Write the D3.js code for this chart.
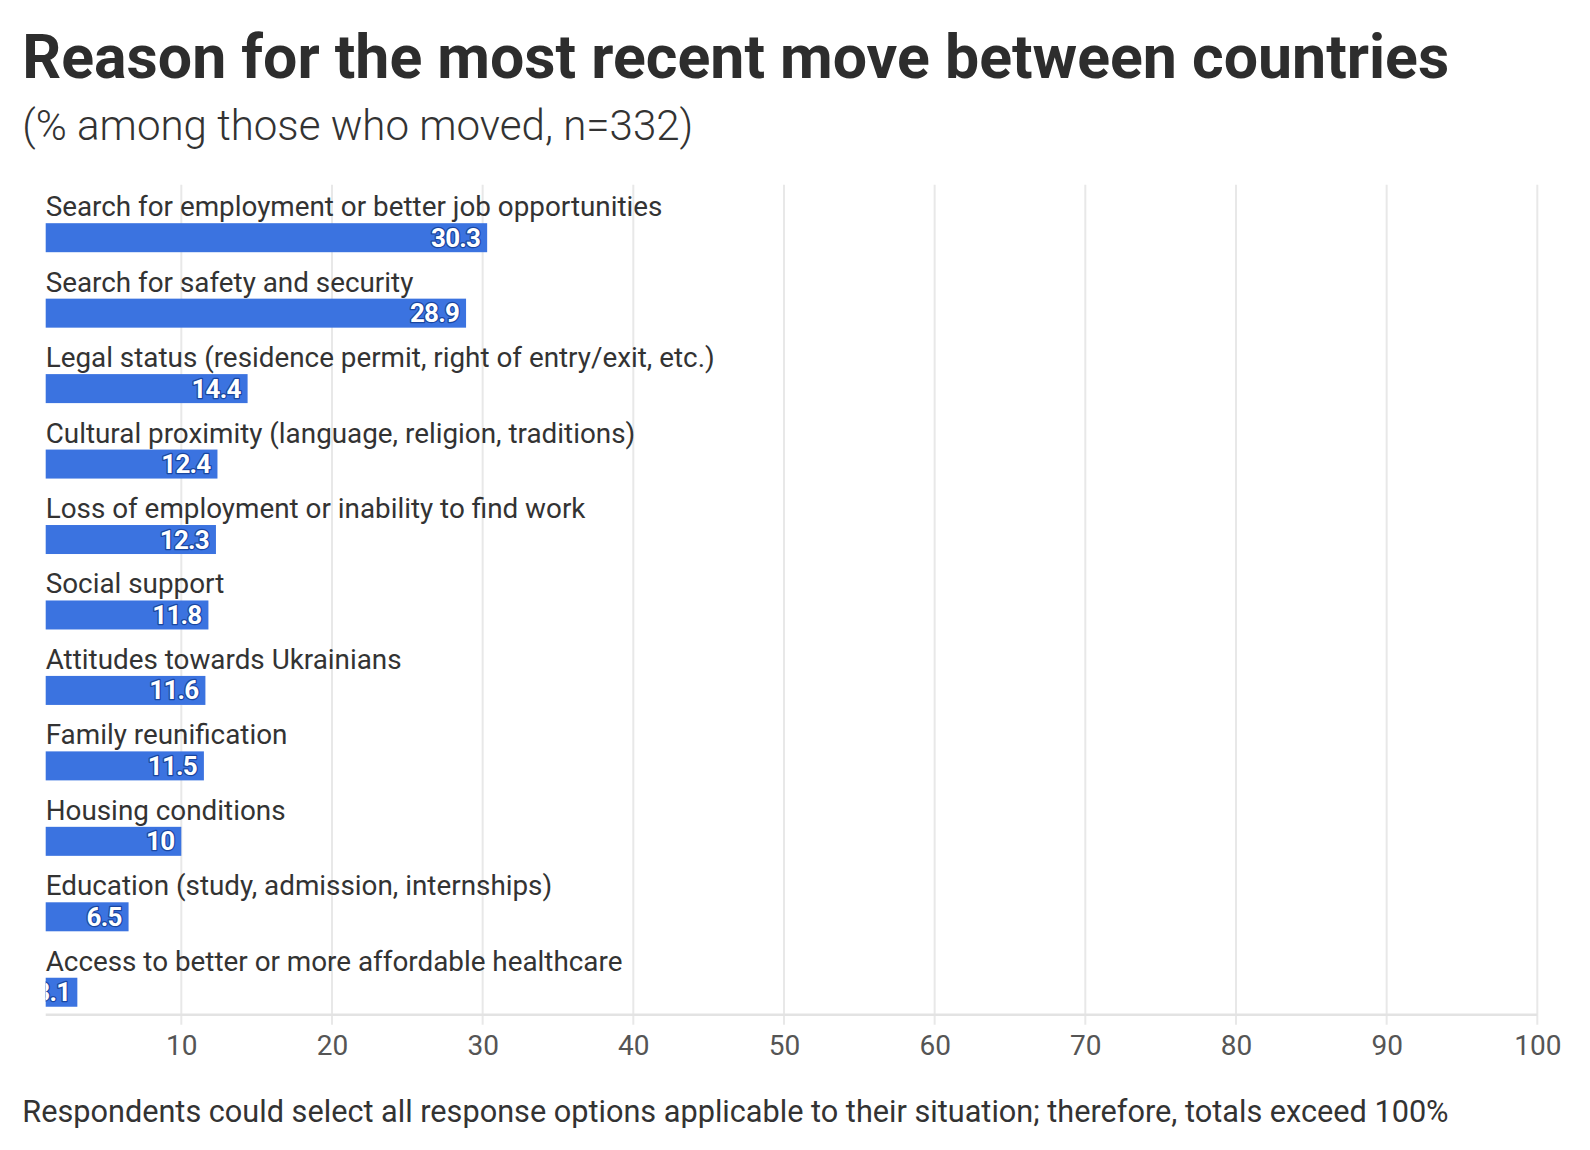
<!DOCTYPE html>
<html>
<head>
<meta charset="utf-8">
<script src="https://cdn.jsdelivr.net/npm/d3@7"></script>
<style>
  html, body { margin: 0; padding: 0; background: #fff; }
  svg { display: block; }
</style>
</head>
<body>
<svg id="chart" width="1590" height="1150"></svg>
<script>
const categories = [
  "Search for employment or better job opportunities",
  "Search for safety and security",
  "Legal status (residence permit, right of entry/exit, etc.)",
  "Cultural proximity (language, religion, traditions)",
  "Loss of employment or inability to find work",
  "Social support",
  "Attitudes towards Ukrainians",
  "Family reunification",
  "Housing conditions",
  "Education (study, admission, internships)",
  "Access to better or more affordable healthcare"
];
const values = [30.3, 28.9, 14.4, 12.4, 12.3, 11.8, 11.6, 11.5, 10, 6.5, 3.1];
const tickValues = [10, 20, 30, 40, 50, 60, 70, 80, 90, 100];
const titleText = "Reason for the most recent move between countries";
const subtitleText = "(% among those who moved, n=332)";
const noteText = "Respondents could select all response options applicable to their situation; therefore, totals exceed 100%";

(function () {
const FONT = "Roboto, 'Liberation Sans', sans-serif";
const svg = d3.select("#chart");

function fitWidth(sel, target) {
  const base = parseFloat(sel.attr("font-size"));
  const w = sel.node().getComputedTextLength();
  sel.attr("font-size", (base * target / w).toFixed(2));
}

const pL = 45.7, pR = 1537.3, pT = 184.7, pB = 1014.7;
const x = d3.scaleLinear().domain([1, 100]).range([pL, pR]);
const y = d3.scaleBand().domain(categories).range([pT, pB]);

// Title & subtitle
const title = svg.append("text").attr("x", 22.3).attr("y", 78)
  .attr("font-family", FONT).attr("font-weight", 700).attr("font-size", 56)
  .attr("fill", "#2d2d2d").text(titleText);
fitWidth(title, 1427);

const sub = svg.append("text").attr("x", 22.3).attr("y", 140)
  .attr("font-family", FONT).attr("font-weight", 300).attr("font-size", 40)
  .attr("fill", "#333").text(subtitleText);
fitWidth(sub, 671);

// Gridlines
svg.append("g").selectAll("line").data(tickValues).join("line")
  .attr("x1", d => x(d)).attr("x2", d => x(d))
  .attr("y1", pT).attr("y2", pB + 10)
  .attr("stroke", "#e8e8e8").attr("stroke-width", 2);

// Baseline
svg.append("line").attr("x1", pL).attr("x2", pR)
  .attr("y1", pB).attr("y2", pB)
  .attr("stroke", "#e3e3e3").attr("stroke-width", 2.5);

// Axis tick labels
const xAxis = d3.axisBottom(x).tickValues(tickValues).tickSize(0).tickPadding(0).tickFormat(d => String(d));
const axG = svg.append("g").attr("transform", `translate(0,${pB})`).call(xAxis);
axG.select(".domain").remove();
axG.selectAll("text").attr("font-family", FONT).attr("font-size", 28).attr("fill", "#555")
  .attr("dy", null).attr("y", 40.5);

// Category labels
const labels = svg.append("g").selectAll("text").data(categories).join("text")
  .attr("x", pL).attr("y", d => y(d) + 31.5)
  .attr("font-family", FONT).attr("font-size", 25).attr("fill", "#333")
  .text(d => d);
const lw = labels.node().getComputedTextLength();
labels.attr("font-size", (25 * 617 / lw).toFixed(2));

// Clip for bars
svg.append("clipPath").attr("id", "plotclip").append("rect")
  .attr("x", pL).attr("y", pT).attr("width", pR - pL).attr("height", pB - pT);

const bars = svg.append("g").attr("clip-path", "url(#plotclip)");
const rows = categories.map((c, i) => ({ c, v: values[i] }));
bars.selectAll("rect").data(rows).join("rect")
  .attr("x", x(0)).attr("y", d => y(d.c) + 38.5)
  .attr("width", d => x(d.v) - x(0)).attr("height", 29)
  .attr("fill", "#3b73e0");

bars.selectAll("text").data(rows).join("text")
  .attr("x", d => x(d.v) - 7).attr("y", d => y(d.c) + 38.5 + 23.5)
  .attr("text-anchor", "end")
  .attr("font-family", FONT).attr("font-weight", 700).attr("font-size", 26)
  .attr("fill", "#fff").attr("stroke", "#1a46a0").attr("stroke-width", 2.5)
  .attr("paint-order", "stroke").attr("stroke-linejoin", "round")
  .attr("letter-spacing", -0.8)
  .text(d => String(d.v));

// Footer note
const note = svg.append("text").attr("x", 22.3).attr("y", 1122)
  .attr("font-family", FONT).attr("font-size", 27).attr("fill", "#333").text(noteText);
fitWidth(note, 1427);
})();
</script>
</body>
</html>
